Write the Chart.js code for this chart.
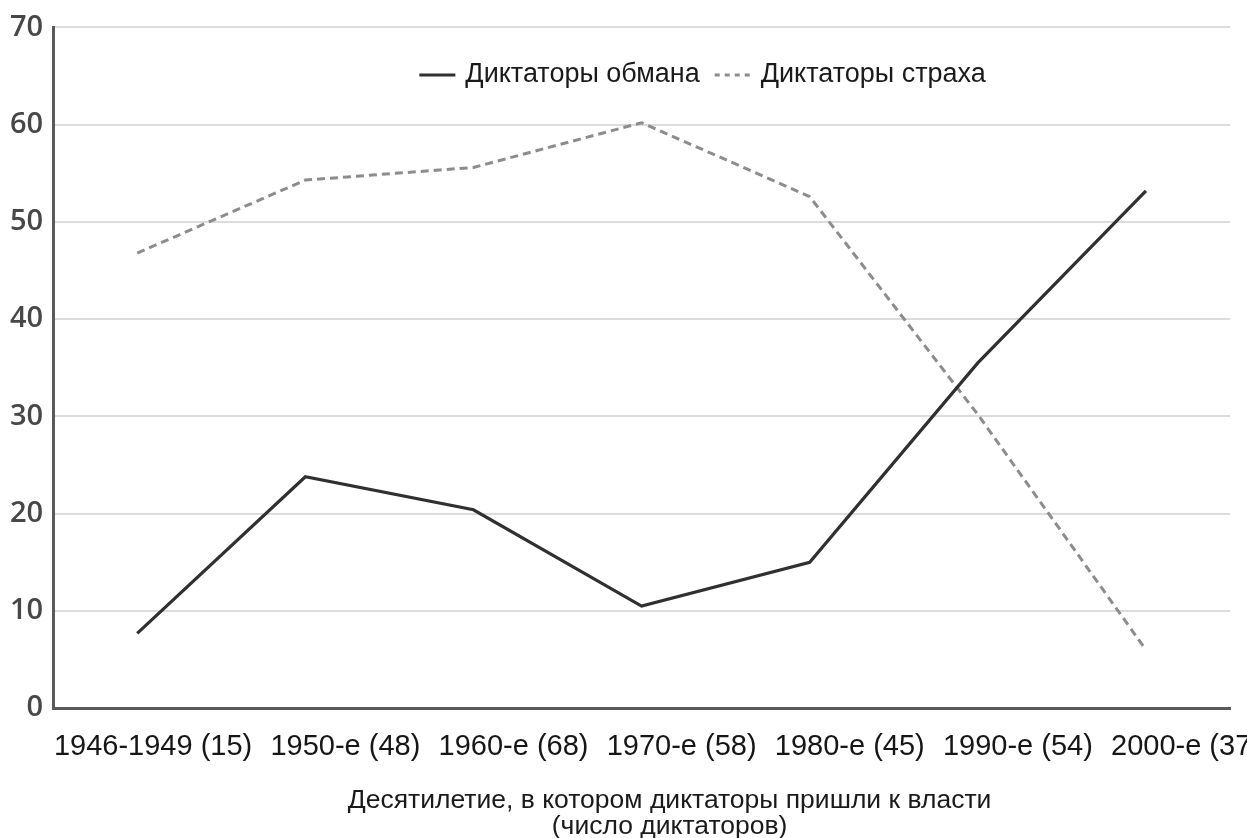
<!DOCTYPE html>
<html>
<head>
<meta charset="utf-8">
<script src="https://cdn.jsdelivr.net/npm/chart.js@4"></script>
<style>
  html, body { margin: 0; padding: 0; background: #ffffff; overflow: hidden; }
  #wrap { width: 1247px; height: 838px; position: relative; }
</style>
</head>
<body>
<div id="wrap"><canvas id="c" width="1247" height="838"></canvas></div>
<script>
const categories = ['1946-1949 (15)', '1950-е (48)', '1960-е (68)', '1970-е (58)', '1980-е (45)', '1990-е (54)', '2000-е (37)'];
const deceptionLabel = 'Диктаторы обмана';
const fearLabel = 'Диктаторы страха';
const deceptionValues = [7.7, 23.8, 20.4, 10.5, 15.0, 35.5, 53.2];
const fearValues = [46.8, 54.3, 55.6, 60.2, 52.6, 30.2, 6.0];
const yMin = 0, yMax = 70, yStep = 10;
const axisTitleLines = ['Десятилетие, в котором диктаторы пришли к власти', '(число диктаторов)'];

const legendAndTitle = {
  id: 'legendAndTitle',
  afterDraw(chart) {
    const ctx = chart.ctx;
    const area = chart.chartArea;
    ctx.save();
    // legend
    ctx.font = '27px "Liberation Sans", Arial, sans-serif';
    ctx.textBaseline = 'middle';
    ctx.textAlign = 'left';
    const sample = 36, gapText = 10, gapItem = 15;
    const items = chart.data.datasets.map(ds => ({
      text: ds.label, color: ds.borderColor, dash: ds.borderDash || [], w: ds.borderWidth
    }));
    let total = 0;
    items.forEach((it, i) => {
      it.tw = ctx.measureText(it.text).width;
      total += sample + gapText + it.tw + (i ? gapItem : 0);
    });
    let x = (area.left + area.right) / 2 + 61 - total / 2;
    const y = 75;
    items.forEach((it, i) => {
      if (i) x += gapItem;
      ctx.beginPath();
      ctx.setLineDash(it.dash.length ? [5, 5] : []);
      ctx.strokeStyle = it.color;
      ctx.lineWidth = it.w;
      ctx.moveTo(x, y);
      ctx.lineTo(x + sample, y);
      ctx.stroke();
      ctx.setLineDash([]);
      x += sample + gapText;
      ctx.fillStyle = '#1a1a1a';
      ctx.fillText(it.text, x, y);
      x += it.tw;
    });
    // axis title
    ctx.font = '26.5px "Liberation Sans", Arial, sans-serif';
    ctx.textAlign = 'center';
    ctx.fillStyle = '#1a1a1a';
    const cx = (area.left + area.right) / 2 + 28;
    ctx.fillText(axisTitleLines[0], cx, area.bottom + 92);
    ctx.fillText(axisTitleLines[1], cx, area.bottom + 118);
    ctx.restore();
  }
};

new Chart(document.getElementById('c'), {
  type: 'line',
  data: {
    labels: categories,
    datasets: [
      { label: deceptionLabel, data: deceptionValues, borderColor: '#303030', borderWidth: 3.2, pointRadius: 0, tension: 0, fill: false },
      { label: fearLabel, data: fearValues, borderColor: '#8c8c8c', borderWidth: 3, borderDash: [8, 5], pointRadius: 0, tension: 0, fill: false }
    ]
  },
  options: {
    responsive: false,
    animation: false,
    events: [],
    layout: { padding: { left: 0, right: 17, top: 19, bottom: 53 } },
    plugins: { legend: { display: false }, title: { display: false }, tooltip: { enabled: false } },
    scales: {
      x: {
        type: 'category',
        offset: true,
        grid: { display: false, drawTicks: false },
        border: { display: true, color: '#5a5a5a', width: 3 },
        ticks: {
          autoSkip: false, maxRotation: 0, minRotation: 0,
          align: 'end', labelOffset: 115, padding: 21,
          color: '#161616',
          font: { family: '"Liberation Sans", Arial, sans-serif', size: 29 }
        },
        afterFit(scale) { scale.paddingLeft = 0; scale.paddingRight = 0; }
      },
      y: {
        min: yMin, max: yMax,
        grid: { color: '#dcdcdc', lineWidth: 2, drawTicks: false },
        border: { display: true, color: '#5a5a5a', width: 3 },
        ticks: {
          stepSize: yStep, padding: 10,
          color: '#474747',
          font: { family: '"Open Sans", sans-serif', size: 29, weight: '600' }
        }
      }
    }
  },
  plugins: [legendAndTitle]
});
</script>
</body>
</html>
